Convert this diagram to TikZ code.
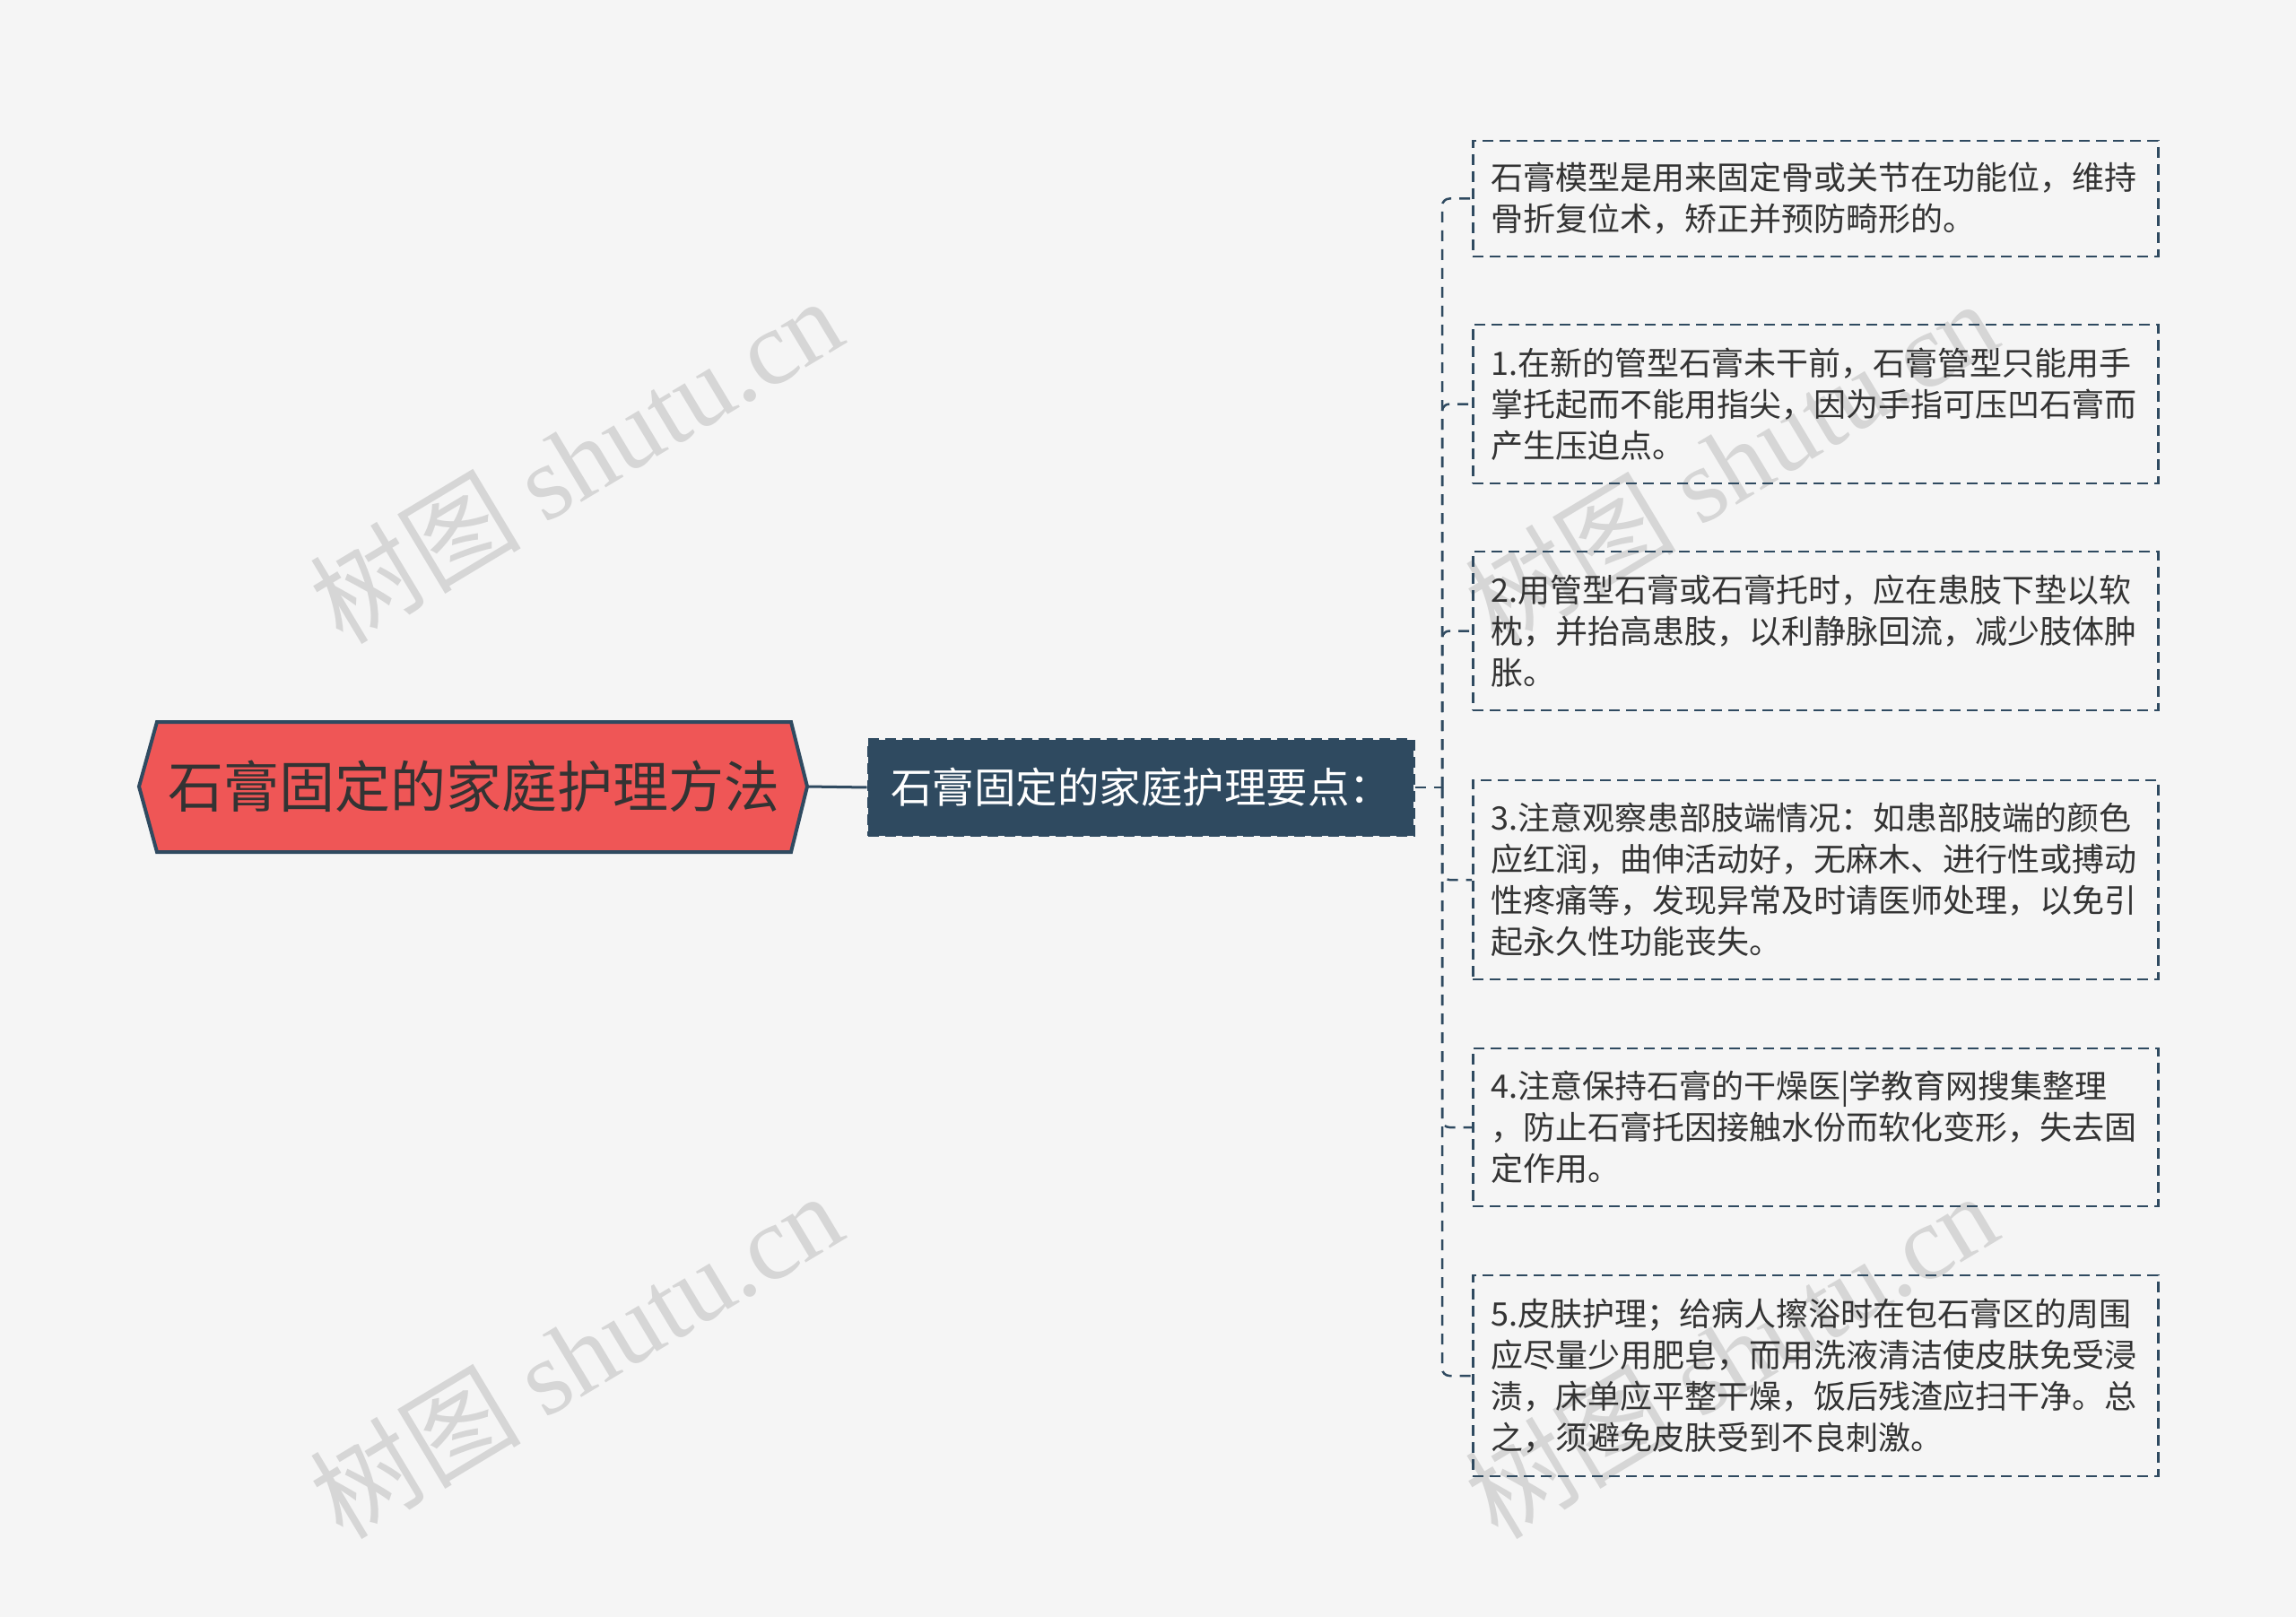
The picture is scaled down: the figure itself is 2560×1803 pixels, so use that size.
\documentclass[tikz,border=0pt]{standalone}
\usepackage{fontspec}
\setmainfont{Noto Sans CJK SC}
\newfontfamily\wmserif{Liberation Serif}
\definecolor{bgc}{HTML}{F5F5F5}
\definecolor{navy}{HTML}{2F4A60}
\definecolor{rootred}{HTML}{EF5656}
\definecolor{txt}{HTML}{333333}
\definecolor{wm}{HTML}{D6D6D6}
\tikzset{
  rootshape/.style={fill=rootred, draw=navy, line width=4pt, line join=miter},
  roottext/.style={text=txt, font=\fontsize{62}{70}\selectfont, inner sep=0pt},
  midnode/.style={fill=navy, draw=navy, line width=3pt, dash pattern=on 12pt off 7pt,
    minimum width=608pt, minimum height=107pt, inner sep=0pt, text=white,
    font=\fontsize{46.5}{52}\selectfont},
  leaf/.style={draw=navy, line width=2.5pt, dash pattern=on 12pt off 7pt,
    anchor=west, text width=724pt, inner xsep=20pt, inner ysep=0pt, align=left,
    text=txt, font=\fontsize{36}{46}\selectfont},
  solidconn/.style={draw=navy, line width=3pt},
  dconn/.style={draw=navy, line width=2.5pt, dash pattern=on 12pt off 9pt, rounded corners=8pt},
  watermark/.style={text=wm, rotate=31, inner sep=0pt, font=\fontsize{118}{128}\selectfont}
}
\begin{document}
\begin{tikzpicture}[x=1pt,y=-1pt]
\fill[bgc] (0,0) rectangle (2560,1803);
\useasboundingbox (0,0) rectangle (2560,1803);

% watermarks
\node[watermark] (w1) at (642,512) {树图 {\wmserif shutu.cn}};
\node[watermark] (w2) at (642,1510) {树图 {\wmserif shutu.cn}};
\node[watermark] (w3) at (1930,515) {树图 {\wmserif shutu.cn}};
\node[watermark] (w4) at (1930,1510) {树图 {\wmserif shutu.cn}};

% root
\draw[rootshape] (155,877) -- (175,805) -- (882,805) -- (900,877) -- (882,950) -- (175,950) -- cycle;
\node[roottext] (root) at (528,877) {石膏固定的家庭护理方法};
\coordinate (rootR) at (900,877);

% middle
\node[midnode] (mid) at (1272,878) {石膏固定的家庭护理要点：};

% leaves
\node[leaf, minimum height=129pt] (l1) at (1641,221.5) {石膏模型是用来固定骨或关节在功能位，维持\\骨折复位术，矫正并预防畸形的。};
\node[leaf, minimum height=177pt] (l2) at (1641,450.5) {1.在新的管型石膏未干前，石膏管型只能用手\\掌托起而不能用指尖，因为手指可压凹石膏而\\产生压迫点。};
\node[leaf, minimum height=177pt] (l3) at (1641,703.5) {2.用管型石膏或石膏托时，应在患肢下垫以软\\枕，并抬高患肢，以利静脉回流，减少肢体肿\\胀。};
\node[leaf, minimum height=222pt] (l4) at (1641,981) {3.注意观察患部肢端情况：如患部肢端的颜色\\应红润，曲伸活动好，无麻木、进行性或搏动\\性疼痛等，发现异常及时请医师处理，以免引\\起永久性功能丧失。};
\node[leaf, minimum height=176pt] (l5) at (1641,1257) {4.注意保持石膏的干燥医|学教育网搜集整理\\，防止石膏托因接触水份而软化变形，失去固\\定作用。};
\node[leaf, minimum height=224pt] (l6) at (1641,1534) {5.皮肤护理；给病人擦浴时在包石膏区的周围\\应尽量少用肥皂，而用洗液清洁使皮肤免受浸\\渍，床单应平整干燥，饭后残渣应扫干净。总\\之，须避免皮肤受到不良刺激。};

% connectors
\draw[solidconn] (rootR) -- (mid.west);
\coordinate (spine) at (1608,878);
\draw[dconn] (mid.east) -- (spine);
\foreach \n in {l1,l2,l3,l4,l5,l6}{
  \draw[dconn] (spine) |- (\n.west);
}
\end{tikzpicture}
\end{document}
